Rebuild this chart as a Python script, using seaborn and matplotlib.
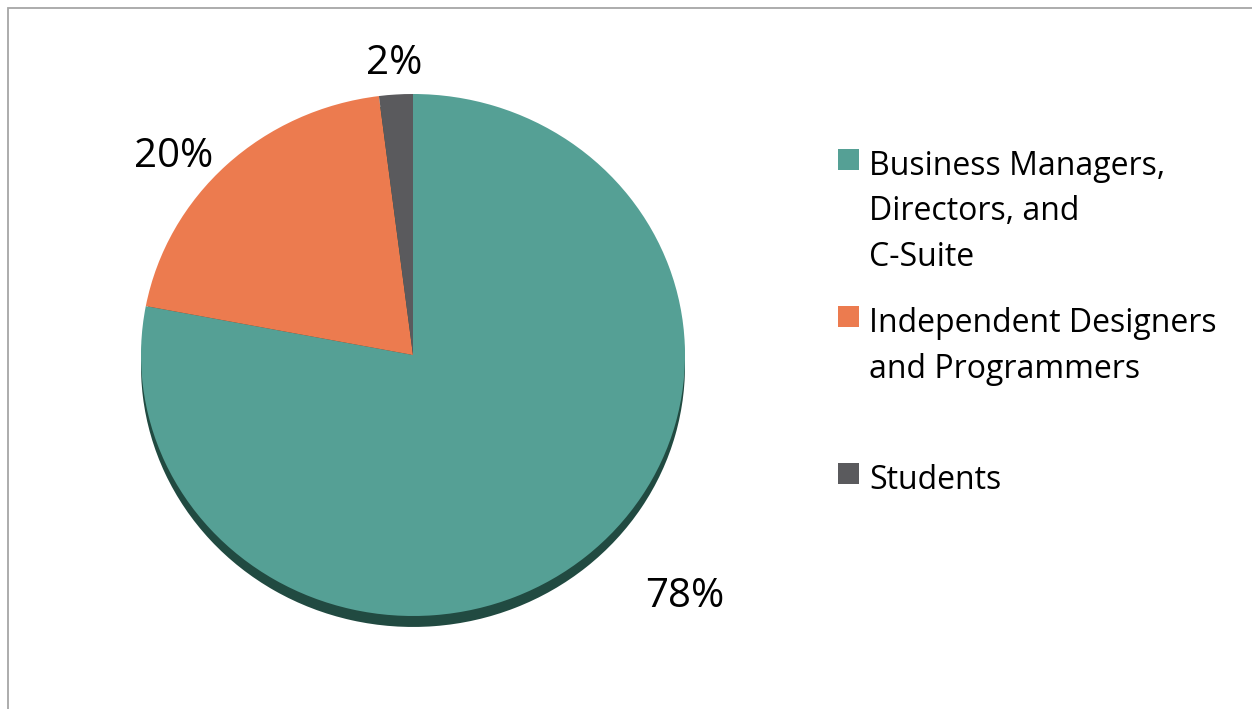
import matplotlib
matplotlib.use("Agg")
import matplotlib.pyplot as plt
from matplotlib.patches import Rectangle
import seaborn as sns

# Data
categories = ["Business Managers,\nDirectors, and\nC-Suite",
              "Independent Designers\nand Programmers",
              "Students"]
shares = [78, 20, 2]
colors = ["#55A095", "#EC7B4F", "#5A5A5D"]

sns.set_theme(style="white")
plt.rcParams["font.family"] = ["Open Sans", "DejaVu Sans"]

W, H = 1252, 709
fig = plt.figure(figsize=(W / 100, H / 100), dpi=100)

# outer frame (only left and top visible in the reference)
fig.patches.append(Rectangle((7.5 / W, -0.05), 1.1, (H - 7.5) / H + 0.05,
                             transform=fig.transFigure, fill=False,
                             edgecolor="#A6A6A6", linewidth=1.3))

# pie axes: elliptical (slightly tilted look)
cx, cy, rx, ry = 413, 355, 272, 261
ax = fig.add_axes([(cx - rx) / W, (H - cy - ry) / H, 2 * rx / W, 2 * ry / H])

# shadow underneath
ax.pie(shares, colors=["#214A41"] * len(shares), startangle=90,
       counterclock=False, center=(0, -0.042), radius=1.0,
       wedgeprops=dict(linewidth=0))
ax.pie(shares, colors=colors, startangle=90, counterclock=False,
       radius=1.0, wedgeprops=dict(linewidth=0))
ax.set_aspect("auto")
ax.set_xlim(-1, 1)
ax.set_ylim(-1, 1)
ax.axis("off")

# percentage labels
label_pos = [(1.0, -0.925), (-0.88, 0.76), (-0.07, 1.115)]
for v, (x, y) in zip(shares, label_pos):
    ax.text(x, y, f"{v}%", ha="center", va="center", fontsize=29,
            color="black", clip_on=False)

# legend drawn by hand
box_x, text_x = 838, 869
box_tops = [149, 306, 463]
for lab, col, top in zip(categories, colors, box_tops):
    fig.patches.append(Rectangle((box_x / W, (H - top - 21) / H), 21 / W, 21 / H,
                                 transform=fig.transFigure, facecolor=col,
                                 edgecolor="none"))
    fig.text(text_x / W, (H - top - 1) / H, lab, ha="left", va="top",
             fontsize=23, color="black", linespacing=1.5)

fig.savefig("out.png", dpi=100)
